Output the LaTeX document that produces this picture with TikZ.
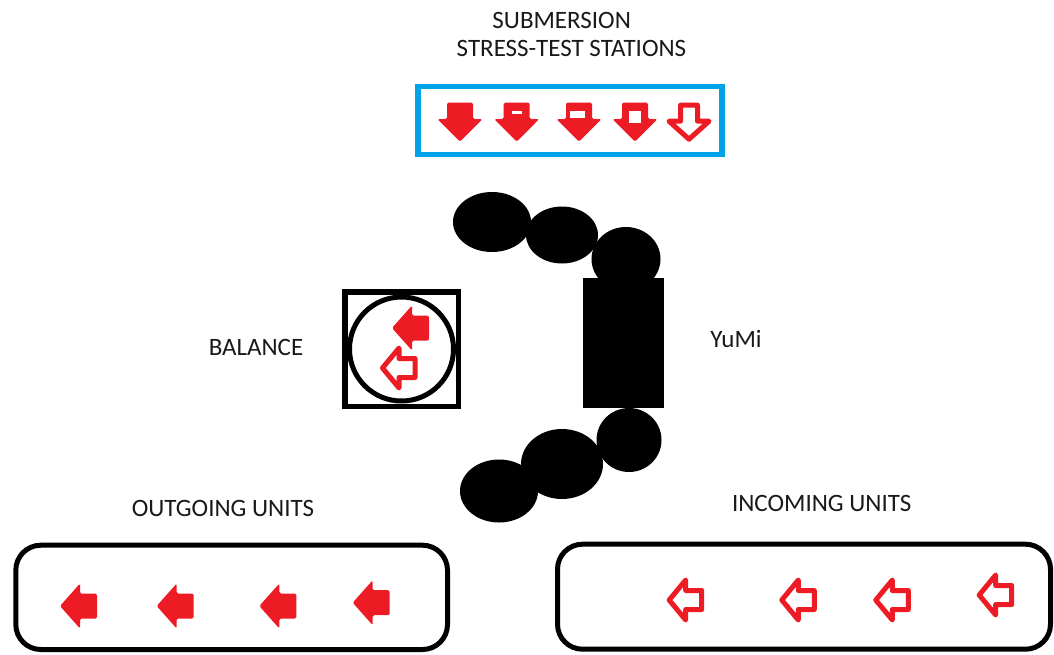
\documentclass[tikz,border=0pt]{standalone}
\usepackage{fontspec}
\setmainfont{Carlito}
\definecolor{paintred}{RGB}{237,28,36}
\definecolor{paintblue}{RGB}{0,162,232}
\tikzset{
  caption/.style={font=\fontsize{25}{29}\selectfont, text=black!90, inner sep=0pt, anchor=base},
  frame/.style={draw=black, line width=5pt},
  % solid arrow pointing left, tip at the pic origin
  solidleft/.pic={\fill[paintred, rounded corners=1.5pt]
      (0,0) -- (20,-22.5) -- (20,-12.5) -- (37,-12.5) -- (37,12.5) -- (20,12.5) -- (20,22.5) -- cycle;},
  % outlined arrow pointing left, tip at the pic origin
  hollowleft/.pic={\draw[paintred, fill=white, line width=5pt, line join=round]
      (2.5,0) -- (19,-20) -- (19,-9.5) -- (35,-9.5) -- (35,9.5) -- (19,9.5) -- (19,20) -- cycle;},
  % solid arrow pointing down, tip at the pic origin
  soliddown/.pic={\fill[paintred, rounded corners=1.5pt]
      (0,0) -- (-22.5,-22.7) -- (-13,-22.7) -- (-13,-39) -- (13,-39) -- (13,-22.7) -- (22.5,-22.7) -- cycle;},
  % outlined arrow pointing down, tip at the pic origin
  hollowdown/.pic={\draw[paintred, fill=white, line width=5pt, line join=round]
      (0,-2.5) -- (-20,-20.5) -- (-8.5,-20.5) -- (-8.5,-36.5) -- (8.5,-36.5) -- (8.5,-20.5) -- (20,-20.5) -- cycle;},
}
\begin{document}
\begin{tikzpicture}[x=1pt,y=-1pt]
\useasboundingbox[fill=white] (0,0) rectangle (1054,654);

% captions
\node[caption] (subm) at (561.7,28) {SUBMERSION};
\node[caption] (stress) at (571.5,56.7) {STRESS-TEST STATIONS};
\node[caption] (balance) at (256,355) {BALANCE};
\node[caption] (yumi) at (736,347.3) {YuMi};
\node[caption] (outgoing) at (223,516.7) {OUTGOING UNITS};
\node[caption] (incoming) at (821.7,511.7) {INCOMING UNITS};

% submersion stations
\draw[paintblue, line width=5.5pt] (417.8,86.7) rectangle (722.2,154.7);
\pic at (460,141.7) {soliddown};
\pic at (516.7,141.7) {soliddown};
\pic at (579,141.7) {soliddown};
\pic at (635,141.7) {soliddown};
\pic at (689,141.7) {hollowdown};
% water levels inside the stations
\fill[white] (511.7,111) rectangle (521.7,114);
\fill[white] (570,111) rectangle (585,118);
\fill[white] (629,111) rectangle (641,123);

% balance
\draw[frame, line width=5.5pt] (344.75,291.75) rectangle (458.25,406.25);
\draw[frame] (401.5,349) circle (52);
\pic at (392,328) {solidleft};
\pic at (380,368) {hollowleft};

% YuMi robot: body and two arms
\fill[black] (583.3,278) rectangle (664,408);
\fill[black] (492,222) ellipse (39 and 30);
\fill[black] (562,235) ellipse (36 and 28.5);
\fill[black] (626,259) ellipse (34.5 and 32);
\fill[black] (629,440) ellipse (32.5 and 32);
\fill[black] (562,464) ellipse (41 and 35);
\fill[black] (499,491) ellipse (39 and 31.5);

% outgoing units tray
\draw[frame, rounded corners=25pt] (15.8,545.2) rectangle (447.5,649.5);
\pic at (60,606) {solidleft};
\pic at (156.7,606) {solidleft};
\pic at (259.3,606) {solidleft};
\pic at (352.7,602.7) {solidleft};

% incoming units tray
\draw[frame, rounded corners=25pt] (557.5,544.2) rectangle (1050.5,649.2);
\pic at (666.7,600) {hollowleft};
\pic at (779.3,600) {hollowleft};
\pic at (873.3,600) {hollowleft};
\pic at (976.7,595) {hollowleft};
\end{tikzpicture}
\end{document}
